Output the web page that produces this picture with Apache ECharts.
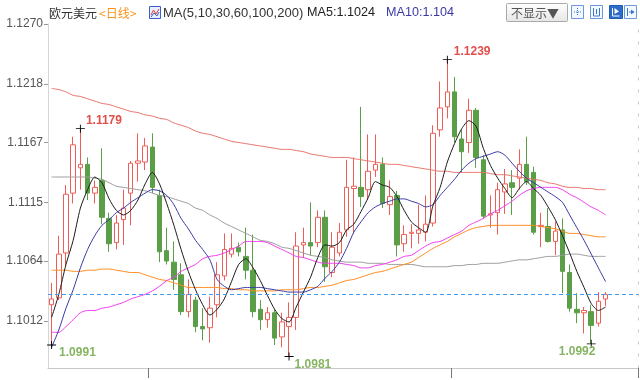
<!DOCTYPE html>
<html><head><meta charset="utf-8">
<script src="https://cdn.jsdelivr.net/npm/echarts@6/dist/echarts.min.js"></script>
<style>html,body{margin:0;padding:0;background:#fff}#c{width:640px;height:380px}</style>
</head><body><div id="c"></div>
<script>
// ---- data ----
const slotCount = 82; // 78 trading days + 4 empty slots on the right
const categories = Array.from({length: slotCount}, (_, i) => 'D' + (i + 1));
// [open, close, low, high]
const candles = [
[1.1026,1.1031,1.0991,1.1045],[1.1032,1.1070,1.1030,1.1086],[1.1071,1.1122,1.1060,1.1130],[1.1123,1.1165,1.1114,1.1172],
[1.1145,1.1148,1.1126,1.1179],[1.1148,1.1123,1.1117,1.1154],[1.1123,1.1128,1.1114,1.1134],[1.1134,1.1102,1.1096,1.1162],
[1.1101,1.1079,1.1072,1.1106],[1.1080,1.1097,1.1074,1.1104],[1.1100,1.1110,1.1078,1.1126],[1.1123,1.1149,1.1095,1.1151],
[1.1149,1.1151,1.1133,1.1175],[1.1150,1.1164,1.1143,1.1171],[1.1163,1.1128,1.1123,1.1175],[1.1121,1.1072,1.1063,1.1126],
[1.1073,1.1064,1.1061,1.1093],[1.1063,1.1048,1.1039,1.1081],[1.1052,1.1020,1.1017,1.1062],[1.1020,1.1035,1.1015,1.1048],
[1.1030,1.1007,1.1002,1.1033],[1.1007,1.1005,1.0995,1.1023],[1.1006,1.1023,1.0993,1.1033],[1.1026,1.1052,1.1015,1.1063],
[1.1051,1.1074,1.1047,1.1088],[1.1070,1.1075,1.1067,1.1088],[1.1076,1.1072,1.1068,1.1080],[1.1068,1.1056,1.1048,1.1093],
[1.1056,1.1020,1.1015,1.1087],[1.1022,1.1013,1.1004,1.1030],[1.1013,1.1019,1.1006,1.1024],[1.1019,1.0997,1.0991,1.1022],
[1.0998,1.1011,1.0989,1.1019],[1.1007,1.1015,1.0981,1.1028],[1.1015,1.1077,1.1004,1.1089],[1.1078,1.1080,1.1067,1.1093],
[1.1080,1.1077,1.1069,1.1115],[1.1080,1.1102,1.1076,1.1108],[1.1102,1.1059,1.1046,1.1108],[1.1054,1.1076,1.1050,1.1089],
[1.1071,1.1089,1.1068,1.1097],[1.1091,1.1128,1.1085,1.1152],[1.1127,1.1129,1.1088,1.1154],[1.1128,1.1120,1.1111,1.1198],
[1.1126,1.1142,1.1117,1.1174],[1.1143,1.1148,1.1137,1.1174],[1.1148,1.1114,1.1110,1.1154],[1.1113,1.1120,1.1104,1.1134],
[1.1121,1.1078,1.1068,1.1125],[1.1079,1.1087,1.1072,1.1095],[1.1088,1.1089,1.1075,1.1096],[1.1088,1.1091,1.1079,1.1113],
[1.1089,1.1096,1.1081,1.1121],[1.1097,1.1175,1.1094,1.1182],[1.1178,1.1197,1.1172,1.1220],[1.1198,1.1211,1.1188,1.1239],
[1.1211,1.1172,1.1167,1.1224],[1.1170,1.1159,1.1141,1.1178],[1.1167,1.1195,1.1158,1.1205],[1.1195,1.1154,1.1145,1.1197],
[1.1152,1.1103,1.1101,1.1156],[1.1104,1.1105,1.1093,1.1121],[1.1106,1.1126,1.1087,1.1132],[1.1124,1.1131,1.1105,1.1144],
[1.1132,1.1128,1.1104,1.1143],[1.1136,1.1148,1.1126,1.1161],[1.1148,1.1133,1.1130,1.1172],[1.1141,1.1089,1.1087,1.1146],
[1.1094,1.1095,1.1076,1.1106],[1.1094,1.1081,1.1080,1.1110],[1.1081,1.1090,1.1069,1.1098],[1.1091,1.1055,1.1036,1.1101],
[1.1054,1.1023,1.1020,1.1061],[1.1022,1.1019,1.1010,1.1036],[1.1019,1.1021,1.1001,1.1024],[1.1020,1.1008,1.0992,1.1026],
[1.1010,1.1029,1.1007,1.1037],[1.1031,1.1035,1.1025,1.1037]
];
const ma5 = [1.1015,1.1035,1.1061,1.1082,1.1110,1.1126,1.1137,1.1132,1.1118,1.1108,
1.1104,1.1108,1.1117,1.1131,1.1141,1.1131,1.1114,1.1095,1.1074,1.1055,
1.1039,1.1026,1.1017,1.1022,1.1031,1.1046,1.1061,1.1066,1.1058,1.1047,
1.1034,1.1022,1.1014,1.1011,1.1024,1.1037,1.1050,1.1067,1.1078,1.1077,
1.1080,1.1091,1.1096,1.1107,1.1119,1.1133,1.1130,1.1128,1.1120,1.1108,
1.1098,1.1093,1.1089,1.1112,1.1128,1.1150,1.1166,1.1179,1.1186,1.1181,
1.1162,1.1147,1.1136,1.1127,1.1119,1.1127,1.1133,1.1127,1.1121,1.1111,
1.1100,1.1086,1.1071,1.1055,1.1041,1.1027,1.1021,1.1024];
const ma10 = [1.0989,1.1004,1.1023,1.1039,1.1058,1.1074,1.1086,1.1095,1.1100,1.1106,
1.1110,1.1115,1.1119,1.1123,1.1126,1.1125,1.1121,1.1113,1.1101,1.1092,
1.1082,1.1074,1.1065,1.1048,1.1042,1.1039,1.1040,1.1041,1.1041,1.1041,
1.1040,1.1039,1.1038,1.1037,1.1037,1.1037,1.1039,1.1042,1.1049,1.1055,
1.1063,1.1075,1.1089,1.1098,1.1106,1.1111,1.1114,1.1116,1.1118,1.1118,
1.1116,1.1114,1.1111,1.1113,1.1121,1.1128,1.1135,1.1143,1.1149,1.1153,
1.1155,1.1157,1.1159,1.1156,1.1149,1.1142,1.1136,1.1132,1.1128,1.1124,
1.1120,1.1115,1.1104,1.1093,1.1082,1.1070,1.1058,1.1046];
const ma30 = [1.1002,1.1002,1.1007,1.1013,1.1019,1.1021,1.1021,1.1023,1.1024,1.1026,
1.1028,1.1031,1.1033,1.1035,1.1038,1.1042,1.1047,1.1050,1.1055,1.1058,
1.1061,1.1066,1.1068,1.1069,1.1071,1.1074,1.1077,1.1081,1.1081,1.1081,
1.1080,1.1077,1.1074,1.1071,1.1068,1.1067,1.1065,1.1063,1.1062,1.1062,
1.1062,1.1061,1.1060,1.1058,1.1058,1.1060,1.1061,1.1063,1.1065,1.1068,
1.1069,1.1073,1.1077,1.1080,1.1081,1.1084,1.1087,1.1090,1.1095,1.1098,
1.1101,1.1105,1.1108,1.1112,1.1116,1.1121,1.1125,1.1127,1.1128,1.1128,
1.1128,1.1126,1.1122,1.1119,1.1115,1.1111,1.1108,1.1104];
const ma60 = [1.1056,1.1056,1.1056,1.1055,1.1055,1.1056,1.1056,1.1057,1.1057,1.1056,
1.1055,1.1054,1.1054,1.1052,1.1050,1.1048,1.1047,1.1045,1.1043,1.1041,
1.1041,1.1041,1.1041,1.1041,1.1040,1.1040,1.1039,1.1039,1.1038,1.1038,
1.1038,1.1038,1.1039,1.1039,1.1039,1.1040,1.1041,1.1041,1.1042,1.1043,
1.1045,1.1047,1.1048,1.1050,1.1052,1.1054,1.1055,1.1057,1.1059,1.1061,
1.1063,1.1067,1.1071,1.1075,1.1078,1.1081,1.1085,1.1088,1.1091,1.1093,
1.1094,1.1095,1.1095,1.1095,1.1095,1.1095,1.1095,1.1095,1.1094,1.1093,
1.1092,1.1090,1.1088,1.1088,1.1087,1.1086,1.1085,1.1085];
const ma100 = [1.1137,1.1137,1.1137,1.1137,1.1137,1.1137,1.1136,1.1135,1.1132,1.1129,
1.1128,1.1127,1.1126,1.1125,1.1123,1.1121,1.1120,1.1118,1.1116,1.1114,
1.1110,1.1108,1.1104,1.1101,1.1097,1.1094,1.1091,1.1088,1.1085,1.1082,
1.1081,1.1079,1.1076,1.1075,1.1073,1.1071,1.1069,1.1068,1.1067,1.1065,
1.1064,1.1063,1.1063,1.1063,1.1062,1.1062,1.1062,1.1061,1.1061,1.1061,
1.1061,1.1060,1.1059,1.1059,1.1059,1.1059,1.1060,1.1060,1.1061,1.1061,
1.1062,1.1062,1.1062,1.1063,1.1064,1.1065,1.1065,1.1066,1.1067,1.1068,
1.1068,1.1069,1.1070,1.1070,1.1069,1.1068,1.1068,1.1068];
const ma200 = [1.1214,1.1213,1.1211,1.1208,1.1207,1.1205,1.1203,1.1201,1.1200,1.1198,
1.1196,1.1194,1.1193,1.1191,1.1190,1.1188,1.1187,1.1184,1.1182,1.1180,
1.1177,1.1175,1.1174,1.1172,1.1170,1.1168,1.1167,1.1166,1.1165,1.1164,
1.1163,1.1162,1.1161,1.1161,1.1160,1.1159,1.1157,1.1156,1.1155,1.1154,
1.1154,1.1154,1.1153,1.1152,1.1151,1.1150,1.1149,1.1148,1.1148,1.1147,
1.1146,1.1145,1.1144,1.1143,1.1142,1.1142,1.1141,1.1141,1.1141,1.1141,
1.1141,1.1140,1.1139,1.1139,1.1138,1.1137,1.1136,1.1135,1.1134,1.1132,
1.1131,1.1129,1.1128,1.1128,1.1127,1.1127,1.1126,1.1126];
const yTicks = [1.1270, 1.1218, 1.1167, 1.1115, 1.1064, 1.1012];
const yMin = 1.0971, yMax = 1.1270;
const monthStarts = [14, 56];
// extreme markers: [candle index, value, kind]
const extremes = [[0, 1.0991, 'low'], [4, 1.1179, 'high'], [33, 1.0981, 'low'], [55, 1.1239, 'high'], [75, 1.0992, 'low']];
const titleName = '欧元美元';
const periodName = '<日线>';
const maTitle = 'MA(5,10,30,60,100,200)';
const ma5Text = 'MA5:1.1024';
const ma10Text = 'MA10:1.104';

// ---- chart ----
const lastClose = candles[candles.length - 1][1];
const labelPos = {0: [12, 12], 4: [10, -4], 33: [10, 12], 55: [11, -4], 75: [-28, 12]};
const markData = extremes.map(([i, v, kind]) => ({
  coord: [i, v], value: v,
  label: {
    show: true, position: labelPos[i], align: 'left', verticalAlign: 'middle',
    color: kind === 'high' ? '#e0504a' : '#86b463', fontWeight: 'bold', fontSize: 12,
    fontFamily: 'Liberation Sans, Arial, sans-serif',
    formatter: p => p.value.toFixed(4)
  }
}));

function maSeries(name, data, color) {
  return { name, type: 'line', data, showSymbol: false, smooth: 0.25, silent: true,
    lineStyle: { width: 1, color }, itemStyle: { color }, z: 3 };
}

const font = 'Liberation Sans, Arial, "Noto Sans CJK SC", sans-serif';
const ma5Line = maSeries('MA5', ma5, '#1c1c1c');
ma5Line.markLine = {
  symbol: ['none', 'none'], silent: true, precision: 6, label: { show: false },
  lineStyle: { color: '#3d9bf2', type: [4, 3], width: 1 },
  data: [{ yAxis: lastClose }]
};
const option = {
  animation: false,
  backgroundColor: '#fff',
  grid: { left: 48, right: 2, top: 24, bottom: 12 },
  xAxis: {
    type: 'category', data: categories, boundaryGap: true,
    axisLine: { show: true, lineStyle: { color: '#c8c8c8' } },
    axisTick: { show: true, inside: false, length: 10, interval: (idx) => monthStarts.includes(idx), lineStyle: { color: '#777' } },
    axisLabel: { show: false }, splitLine: { show: false }
  },
  yAxis: [{
    type: 'value', min: yMin, max: yMax, position: 'left', scale: true,
    axisLine: { show: true, lineStyle: { color: '#d6d6d6' } },
    axisTick: { show: true, length: 4, customValues: yTicks, lineStyle: { color: '#999' } },
    axisLabel: { customValues: yTicks, formatter: v => v.toFixed(4), color: '#555', fontSize: 12, margin: 5, fontFamily: font },
    splitLine: { show: false }
  }, {
    type: 'value', min: yMin, max: yMax, position: 'right', scale: true,
    axisLine: { show: true, lineStyle: { color: '#c8c8c8', type: [2, 10] } },
    axisTick: { show: false }, axisLabel: { show: false }, splitLine: { show: false }
  }],
  series: [
    maSeries('MA200', ma200, '#e8726a'),
    maSeries('MA100', ma100, '#9b9b9b'),
    maSeries('MA60', ma60, '#ff8a1c'),
    maSeries('MA30', ma30, '#f23cf0'),
    maSeries('MA10', ma10, '#3a3aa6'),
    {
      name: 'K', type: 'candlestick', data: candles, barWidth: 5, z: 2,
      itemStyle: { color: '#ffffff', color0: '#5a9f47', borderColor: '#ee5e58', borderColor0: '#5a9f47', borderWidth: 1 },
      markPoint: {
        symbol: 'path://M0,4.5H10V5.5H0Z M4.5,0H5.5V10H4.5Z', symbolSize: [9, 8], symbolKeepAspect: false,
        itemStyle: { color: '#000' }, data: markData, silent: true
      }
    },
    ma5Line
  ],
  graphic: [
    { type: 'text', x: 49, y: 13, style: { text: titleName, fill: '#333', font: '12px "Noto Sans CJK SC"', verticalAlign: 'middle' } },
    { type: 'text', x: 99, y: 13, style: { text: periodName, fill: '#f7931e', font: '12px "Noto Sans CJK SC"', verticalAlign: 'middle' } },
    { type: 'rect', shape: { x: 149.5, y: 6.5, width: 11, height: 12 }, style: { fill: '#e9efff', stroke: '#3d5fc9', lineWidth: 1 } },
    { type: 'polyline', shape: { points: [[151, 15], [153.5, 10], [156, 14], [159, 9]] }, style: { stroke: '#e03a3a', fill: null, lineWidth: 1 } },
    { type: 'polyline', shape: { points: [[151, 17], [154, 13], [157, 16], [159, 12]] }, style: { stroke: '#3d5fc9', fill: null, lineWidth: 1 } },
    { type: 'text', x: 163, y: 13, style: { text: maTitle, fill: '#333', font: '13px "Liberation Sans"', verticalAlign: 'middle' } },
    { type: 'text', x: 307, y: 13, style: { text: ma5Text, fill: '#222', font: '12.6px "Liberation Sans"', verticalAlign: 'middle' } },
    { type: 'text', x: 386, y: 13, style: { text: ma10Text, fill: '#3a3aa6', font: '12.6px "Liberation Sans"', verticalAlign: 'middle' } },
    { type: 'rect', shape: { x: 506.5, y: 3.5, width: 61, height: 18, r: 1 },
      style: { fill: new echarts.graphic.LinearGradient(0, 0, 0, 1, [{ offset: 0, color: '#ffffff' }, { offset: 1, color: '#e6e6e6' }]), stroke: '#a9a9a9', lineWidth: 1 } },
    { type: 'text', x: 511, y: 13, style: { text: '不显示▼', fill: '#555', font: '12px "Noto Sans CJK SC"', verticalAlign: 'middle' } },
    { type: 'rect', shape: { x: 571.5, y: 5.5, width: 12, height: 13 }, style: { fill: '#f4f8ff', stroke: '#6d98d8', lineWidth: 1 } },
    { type: 'polyline', shape: { points: [[577.5, 8], [577.5, 16]] }, style: { stroke: '#3a78d0', lineDash: [1, 1], fill: null } },
    { type: 'polyline', shape: { points: [[574, 12], [581, 12]] }, style: { stroke: '#3a78d0', lineDash: [1, 1], fill: null } },
    { type: 'rect', shape: { x: 590.5, y: 5.5, width: 12, height: 13 }, style: { fill: '#f4f8ff', stroke: '#6d98d8', lineWidth: 1 } },
    { type: 'polyline', shape: { points: [[593.5, 8], [593.5, 16], [599.5, 16], [599.5, 8]] }, style: { stroke: '#3a78d0', fill: null } },
    { type: 'polyline', shape: { points: [[596.5, 9], [596.5, 14]] }, style: { stroke: '#3a78d0', fill: null } },
    { type: 'rect', shape: { x: 609.5, y: 5.5, width: 13, height: 13 }, style: { fill: '#2b6cc8', stroke: '#1f5bb0', lineWidth: 1 } },
    { type: 'polyline', shape: { points: [[612.5, 8], [612.5, 16], [619.5, 16]] }, style: { stroke: '#fff', fill: null } },
    { type: 'polygon', shape: { points: [[614.5, 8], [619, 11.5], [614.5, 14]] }, style: { fill: '#fff' } },
    { type: 'rect', shape: { x: 624.5, y: 5.5, width: 12, height: 13 }, style: { fill: '#f4f8ff', stroke: '#6d98d8', lineWidth: 1 } },
    { type: 'polyline', shape: { points: [[627.5, 8], [627.5, 16]] }, style: { stroke: '#3a78d0', fill: null } },
    { type: 'polyline', shape: { points: [[629, 12], [634, 12]] }, style: { stroke: '#3a78d0', fill: null } },
    { type: 'polygon', shape: { points: [[631, 9.5], [634.5, 12], [631, 14.5]] }, style: { fill: '#3a78d0' } }
  ]
};
const chart = echarts.init(document.getElementById('c'));
chart.setOption(option);
</script>
</body></html>
